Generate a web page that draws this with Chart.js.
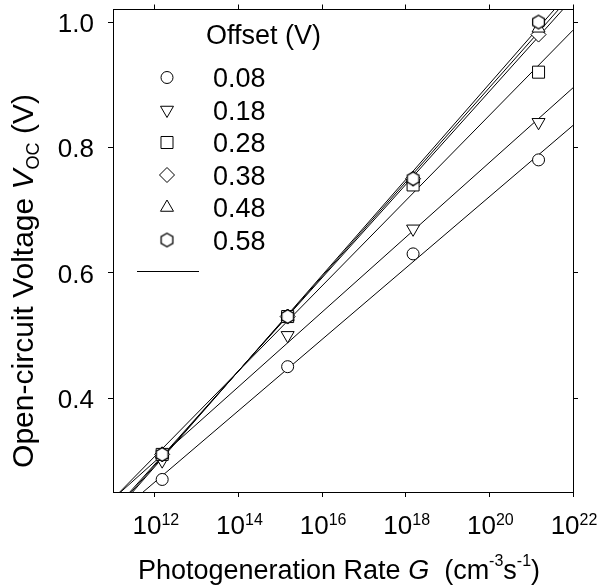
<!DOCTYPE html>
<html>
<head>
<meta charset="utf-8">
<script src="https://cdn.jsdelivr.net/npm/chart.js@4.4.0/dist/chart.umd.min.js"></script>
<style>
  body { margin: 0; background: #fff; }
  #wrap { width: 597px; height: 588px; }
</style>
</head>
<body>
<div id="wrap"><canvas id="mycanvas" width="597" height="588"></canvas></div>
<script>
// measured points, one array per offset voltage
var genRate = [1.5e12, 1.5e15, 1.5e18, 1.5e21];
var offsets = ['0.08', '0.18', '0.28', '0.38', '0.48', '0.58'];
var voc008 = [0.27, 0.45, 0.63, 0.78];
var voc018 = [0.30, 0.50, 0.67, 0.84];
var voc028 = [0.31, 0.53, 0.74, 0.92];
var voc038 = [0.31, 0.53, 0.75, 0.98];
var voc048 = [0.31, 0.53, 0.75, 0.99];
var voc058 = [0.31, 0.53, 0.75, 1.00];

var fitX = [1e11, 1e22];
var fit008 = [0.209, 0.835];
var fit018 = [0.239, 0.895];
var fit028 = [0.239, 0.987];
var fit038 = [0.220, 1.038];
var fit048 = [0.217, 1.046];
var fit058 = [0.214, 1.054];

var xTickExps = [12, 14, 16, 18, 20, 22];
var yTickValues = [0.4, 0.6, 0.8, 1.0];

var FONT = '"Liberation Sans", Arial, sans-serif';

// hexagon marker (no built-in point style for it)
var hex = document.createElement('canvas');
hex.width = 17; hex.height = 17;
(function(){
  var c = hex.getContext('2d');
  c.beginPath();
  for (var k = 0; k < 6; k++) {
    var a = Math.PI / 3 * k;
    var px = 8.5 + Math.sin(a) * 6.8, py = 8.5 - Math.cos(a) * 6.8;
    if (k === 0) c.moveTo(px, py); else c.lineTo(px, py);
  }
  c.closePath();
  c.fillStyle = '#fff'; c.fill();
  c.lineWidth = 1.3; c.strokeStyle = '#000'; c.stroke();
})();

var vocSeries = [voc008, voc018, voc028, voc038, voc048, voc058];
var fitSeries = [fit008, fit018, fit028, fit038, fit048, fit058];
var markerStyle = ['circle', 'triangle', 'rect', 'rectRot', 'triangle', hex];
var markerRot = [0, 180, 0, 0, 0, 0];
var markerRad = [6, 7.5, 8.5, 7.5, 7.5, 7];

function xy(xs, ys) {
  var out = [];
  for (var i = 0; i < xs.length; i++) out.push({x: xs[i], y: ys[i]});
  return out;
}

var datasets = [];
for (var i = 0; i < vocSeries.length; i++) {
  datasets.push({
    label: offsets[i],
    data: xy(genRate, vocSeries[i]),
    showLine: false,
    pointStyle: markerStyle[i],
    rotation: markerRot[i],
    pointRadius: markerRad[i],
    pointBackgroundColor: '#fff',
    pointBorderColor: '#000',
    pointBorderWidth: 1,
    clip: false,
    order: 6 - i
  });
}
for (var j = 0; j < fitSeries.length; j++) {
  datasets.push({
    label: 'fit ' + offsets[j],
    data: xy(fitX, fitSeries[j]),
    showLine: true,
    borderColor: '#000',
    borderWidth: 1,
    pointRadius: 0,
    tension: 0,
    clip: 0,
    order: 20
  });
}

function runs(ctx, parts, x, y, align) {
  var total = 0;
  parts.forEach(function(p){ ctx.font = p.f; total += ctx.measureText(p.t).width; });
  var cx = align === 'center' ? x - total / 2 : x;
  ctx.textAlign = 'left';
  parts.forEach(function(p){
    ctx.font = p.f;
    ctx.fillText(p.t, cx, y + (p.dy || 0));
    cx += ctx.measureText(p.t).width;
  });
}

var textPlugin = {
  id: 'texts',
  afterDraw: function(chart) {
    var ctx = chart.ctx;
    var xs = chart.scales.x, ys = chart.scales.y;
    var n26 = '26px ' + FONT, n16 = '16px ' + FONT;
    var n27 = '27px ' + FONT, i27 = 'italic 27px ' + FONT;
    var n30 = '30px ' + FONT, i30 = 'italic 30px ' + FONT, n18 = '18px ' + FONT;
    ctx.save();
    ctx.fillStyle = '#000';
    ctx.textBaseline = 'alphabetic';

    // y tick labels
    ctx.font = n26;
    ctx.textAlign = 'right';
    yTickValues.forEach(function(v){
      ctx.fillText(v.toFixed(1), 94, ys.getPixelForValue(v) + 10);
    });

    // x tick labels 10^n
    xTickExps.forEach(function(e){
      var px = xs.getPixelForValue(Math.pow(10, e));
      runs(ctx, [{t: '10', f: n26}, {t: String(e), f: n16, dy: -9}], px + 1, 534, 'center');
    });

    // x title
    runs(ctx, [
      {t: 'Photogeneration Rate ', f: n27},
      {t: 'G', f: i27},
      {t: '  (cm', f: n27},
      {t: '-3', f: n16, dy: -13},
      {t: 's', f: n27},
      {t: '-1', f: n16, dy: -13},
      {t: ')', f: n27}
    ], 339, 579, 'center');

    // y title
    ctx.save();
    ctx.translate(33, 281);
    ctx.rotate(-Math.PI / 2);
    runs(ctx, [
      {t: 'Open-circuit Voltage ', f: n30},
      {t: 'V', f: i30},
      {t: 'OC', f: n18, dy: 6},
      {t: ' (V)', f: n30}
    ], 0, 0, 'center');
    ctx.restore();

    // legend
    ctx.font = n27;
    ctx.textAlign = 'left';
    ctx.fillText('Offset (V)', 206, 44);
    for (var k = 0; k < offsets.length; k++) {
      var ry = 77.5 + k * 32.5;
      ctx.fillStyle = '#fff';
      ctx.strokeStyle = '#000';
      ctx.lineWidth = 1;
      Chart.helpers.drawPoint(ctx, {
        pointStyle: markerStyle[k], rotation: markerRot[k],
        radius: markerRad[k], borderWidth: 1
      }, 167, ry);
      ctx.fillStyle = '#000';
      ctx.font = n27;
      ctx.fillText(offsets[k], 213, ry + 9.5);
    }
    ctx.beginPath();
    ctx.moveTo(137, 271.5);
    ctx.lineTo(199, 271.5);
    ctx.strokeStyle = '#000';
    ctx.lineWidth = 1;
    ctx.stroke();
    ctx.restore();
  }
};

function axisGrid() {
  return { drawOnChartArea: false, drawTicks: true, tickLength: 5, color: '#000', tickColor: '#000', lineWidth: 1 };
}

var ctx = document.getElementById('mycanvas');
var chart = new Chart(ctx, {
  type: 'scatter',
  data: { datasets: datasets },
  plugins: [textPlugin],
  options: {
    responsive: false,
    animation: false,
    devicePixelRatio: 1,
    layout: { padding: { left: 108, right: 19, top: 4, bottom: 91 } },
    plugins: { legend: { display: false }, tooltip: { enabled: false } },
    scales: {
      x: {
        type: 'logarithmic', position: 'bottom', min: 1e11, max: 1e22,
        afterBuildTicks: function(s){ s.ticks = xTickExps.map(function(e){ return {value: Math.pow(10, e)}; }); },
        ticks: { display: false },
        grid: axisGrid(),
        border: { display: true, color: '#000', width: 1 }
      },
      x2: {
        type: 'logarithmic', position: 'top', min: 1e11, max: 1e22,
        afterBuildTicks: function(s){ s.ticks = xTickExps.map(function(e){ return {value: Math.pow(10, e)}; }); },
        ticks: { display: false },
        grid: axisGrid(),
        border: { display: true, color: '#000', width: 1 }
      },
      y: {
        type: 'linear', position: 'left', min: 0.25, max: 1.02,
        afterBuildTicks: function(s){ s.ticks = yTickValues.map(function(v){ return {value: v}; }); },
        ticks: { display: false },
        grid: axisGrid(),
        border: { display: true, color: '#000', width: 1 }
      },
      y2: {
        type: 'linear', position: 'right', min: 0.25, max: 1.02,
        afterBuildTicks: function(s){ s.ticks = yTickValues.map(function(v){ return {value: v}; }); },
        ticks: { display: false },
        grid: axisGrid(),
        border: { display: true, color: '#000', width: 1 }
      }
    }
  }
});
</script>
</body>
</html>
